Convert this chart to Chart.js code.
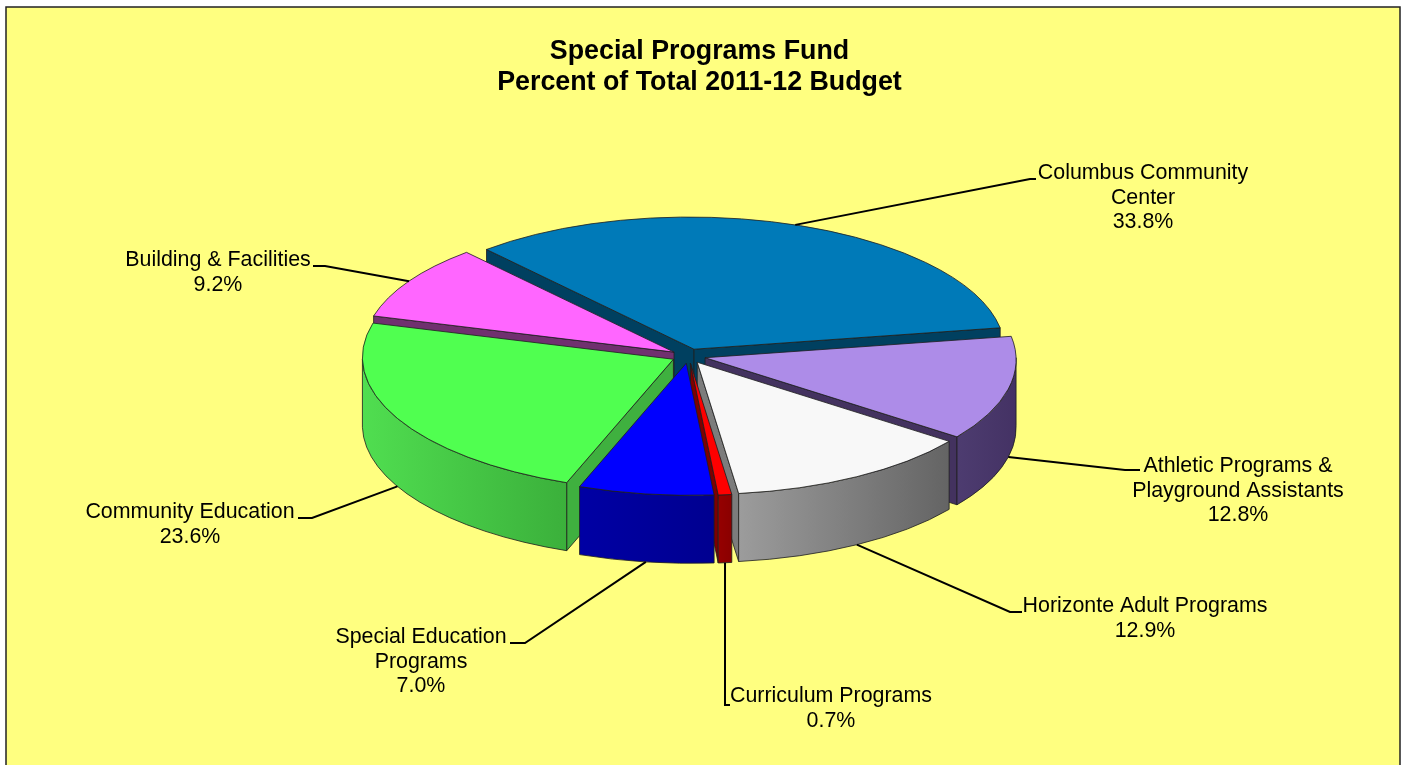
<!DOCTYPE html>
<html>
<head>
<meta charset="utf-8">
<title>Special Programs Fund</title>
<script src="https://cdn.jsdelivr.net/npm/chart.js@4"></script>
<style>
  html, body { margin: 0; padding: 0; background: #fff; overflow: hidden; }
  canvas { display: block; }
</style>
</head>
<body>
<canvas id="budgetPie" width="1406" height="765"></canvas>
<script>
const categories = [
  "Columbus Community Center",
  "Athletic Programs & Playground Assistants",
  "Horizonte Adult Programs",
  "Curriculum Programs",
  "Special Education Programs",
  "Community Education",
  "Building & Facilities",
];
const percents = [33.8, 12.8, 12.9, 0.7, 7.0, 23.6, 9.2];
const titleLines = ["Special Programs Fund", "Percent of Total 2011-12 Budget"];

// how each slice name wraps in its label
const labelLines = [
  ["Columbus Community", "Center"],
  ["Athletic Programs &", "Playground Assistants"],
  ["Horizonte Adult Programs"],
  ["Curriculum Programs"],
  ["Special Education", "Programs"],
  ["Community Education"],
  ["Building & Facilities"],
];

const topColors = ["#007ab8", "#ad8ce8", "#f8f8f8", "#ff0000", "#0000ff", "#50ff50", "#ff66ff"];
const edgeColors = ["#004060", "#43325f", "#7c7c7c", "#7d0000", "#000090", "#3fb03f", "#70306f"];
const wallLeft = ["#005a88", "#4d3c70", "#9c9c9c", "#960000", "#0000a4", "#50de50", "#a040a0"];
const wallRight = ["#005a88", "#443264", "#646464", "#8a0000", "#000090", "#3bb03b", "#a040a0"];

// painter's order, back of the pie to the front
const drawOrder = [0, 6, 1, 5, 2, 3, 4];

// where the label text and the leader elbows sit
const labelSpots = [
  { x: 1143, y: 173, elbowX: 1030, elbowY: 179, endX: 1036 },
  { x: 1238, y: 466, elbowX: 1125, elbowY: 470, endX: 1140 },
  { x: 1145, y: 606, elbowX: 1010, elbowY: 612, endX: 1022 },
  { x: 831, y: 696, elbowX: 725, elbowY: 705, endX: 730 },
  { x: 421, y: 637, elbowX: 525, elbowY: 643, endX: 510 },
  { x: 190, y: 512, elbowX: 312, elbowY: 518, endX: 298 },
  { x: 218, y: 260, elbowX: 325, elbowY: 266, endX: 313 },
];

const pieX = 688.5;
const pieY = 356;
const pieRadius = 311;
const tilt = 0.425;
const depth = 68;
const explode = 17;
const lean = 0.035; // slight shear so the near rim sits further right, as in a perspective view
const outline = "rgba(30, 30, 30, 0.8)";

function sliceOffset(arc) {
  const mid = (arc.startAngle + arc.endAngle) / 2;
  return {
    mid,
    x: pieX + Math.cos(mid) * explode,
    y: pieY + Math.sin(mid) * explode * tilt,
  };
}

function rimPoint(apex, angle, radius) {
  const y = apex.y + Math.sin(angle) * radius * tilt;
  return {
    x: apex.x + Math.cos(angle) * radius + lean * (y - pieY),
    y,
  };
}

// adds an ellipse arc to the current path, leaning with the rest of its plane
function leanedArc(ctx, apex, r, from, to, drop, backwards) {
  ctx.save();
  ctx.transform(1, 0, lean, 1, -lean * (pieY + drop), 0);
  ctx.ellipse(apex.x, apex.y + drop, r, r * tilt, 0, from, to, backwards);
  ctx.restore();
}

function drawRadialFace(ctx, apex, arc, angle, color) {
  const rim = rimPoint(apex, angle, arc.outerRadius);
  const tip = rimPoint(apex, angle, 0);
  ctx.beginPath();
  ctx.moveTo(tip.x, tip.y);
  ctx.lineTo(rim.x, rim.y);
  ctx.lineTo(rim.x, rim.y + depth);
  ctx.lineTo(tip.x, tip.y + depth);
  ctx.closePath();
  ctx.fillStyle = color;
  ctx.fill();
  ctx.stroke();
}

// outer wall: only the part of the rim that faces the viewer
function drawOuterWall(ctx, apex, arc, index) {
  const r = arc.outerRadius;
  for (let k = -1; k <= 1; k++) {
    const lo = Math.max(arc.startAngle, 2 * Math.PI * k);
    const hi = Math.min(arc.endAngle, Math.PI + 2 * Math.PI * k);
    if (lo >= hi) continue;
    const a = rimPoint(apex, lo, r);
    const b = rimPoint(apex, hi, r);
    const grad = ctx.createLinearGradient(Math.min(a.x, b.x), 0, Math.max(a.x, b.x), 0);
    grad.addColorStop(0, wallLeft[index]);
    grad.addColorStop(1, wallRight[index]);
    ctx.beginPath();
    leanedArc(ctx, apex, r, lo, hi, 0, false);
    ctx.lineTo(b.x, b.y + depth);
    leanedArc(ctx, apex, r, hi, lo, depth, true);
    ctx.closePath();
    ctx.fillStyle = grad;
    ctx.fill();
    ctx.stroke();
  }
}

function drawTopOutline(ctx, apex, arc) {
  const tip = rimPoint(apex, 0, 0);
  ctx.beginPath();
  ctx.moveTo(tip.x, tip.y);
  leanedArc(ctx, apex, arc.outerRadius, arc.startAngle, arc.endAngle, 0, false);
  ctx.closePath();
  ctx.stroke();
}

// squashes the library's flat arcs and extrudes them, back slices first
const tiltedPie = {
  id: "tiltedPie",
  beforeDraw(chart) {
    const { ctx } = chart;
    ctx.save();
    ctx.fillStyle = "#ffff80";
    ctx.fillRect(6, 7, 1394, 770);
    ctx.strokeStyle = "#222";
    ctx.lineWidth = 1.5;
    ctx.strokeRect(6, 7, 1394, 770);
    ctx.restore();
  },
  beforeDatasetDraw(chart, args) {
    const { ctx } = chart;
    drawOrder.forEach((index) => {
      const arc = args.meta.data[index];
      const apex = sliceOffset(arc);
      ctx.save();
      ctx.strokeStyle = outline;
      ctx.lineWidth = 1;
      ctx.lineJoin = "round";
      // a radial face only shows when it turns towards the viewer
      if (Math.cos(arc.startAngle) < 0) drawRadialFace(ctx, apex, arc, arc.startAngle, edgeColors[index]);
      if (Math.cos(arc.endAngle) > 0) drawRadialFace(ctx, apex, arc, arc.endAngle, edgeColors[index]);
      drawOuterWall(ctx, apex, arc, index);
      ctx.save();
      ctx.transform(1, 0, lean, 1, -lean * pieY, 0);
      ctx.translate(apex.x, apex.y);
      ctx.scale(1, tilt);
      ctx.translate(-arc.x, -arc.y);
      arc.draw(ctx);
      ctx.restore();
      drawTopOutline(ctx, apex, arc);
      ctx.restore();
    });
    return false;
  },
  afterDatasetsDraw(chart) {
    const { ctx } = chart;
    const arcs = chart.getDatasetMeta(0).data;
    ctx.save();
    arcs.forEach((arc, i) => {
      const spot = labelSpots[i];
      const apex = sliceOffset(arc);
      const start = rimPoint(apex, apex.mid, arc.outerRadius);
      const startY = Math.sin(apex.mid) > 0 ? start.y + depth : start.y;
      ctx.beginPath();
      ctx.moveTo(start.x, startY);
      ctx.lineTo(spot.elbowX, spot.elbowY);
      ctx.lineTo(spot.endX, spot.elbowY);
      ctx.strokeStyle = "#000";
      ctx.lineWidth = 2;
      ctx.stroke();

      const lines = [...labelLines[i], percents[i].toFixed(1) + "%"];
      ctx.fillStyle = "#000";
      ctx.font = '21.4px "Liberation Sans", Arial, sans-serif';
      ctx.textAlign = "center";
      ctx.textBaseline = "middle";
      lines.forEach((line, n) => ctx.fillText(line, spot.x, spot.y + n * 24.7));
    });
    ctx.restore();
  },
};

new Chart(document.getElementById("budgetPie"), {
  type: "pie",
  data: {
    labels: categories,
    datasets: [
      {
        data: percents,
        backgroundColor: topColors,
        borderWidth: 0,
        clip: false,
      },
    ],
  },
  options: {
    responsive: false,
    animation: false,
    rotation: -41,
    radius: pieRadius,
    layout: { padding: { right: 7 } },
    plugins: {
      legend: { display: false },
      tooltip: { enabled: false },
      title: {
        display: true,
        text: titleLines,
        color: "#000",
        font: { family: '"Liberation Sans", Arial, sans-serif', size: 26.8, weight: "bold", lineHeight: 1.16 },
        padding: { top: 36, bottom: 10 },
      },
    },
  },
  plugins: [tiltedPie],
});
</script>
</body>
</html>
